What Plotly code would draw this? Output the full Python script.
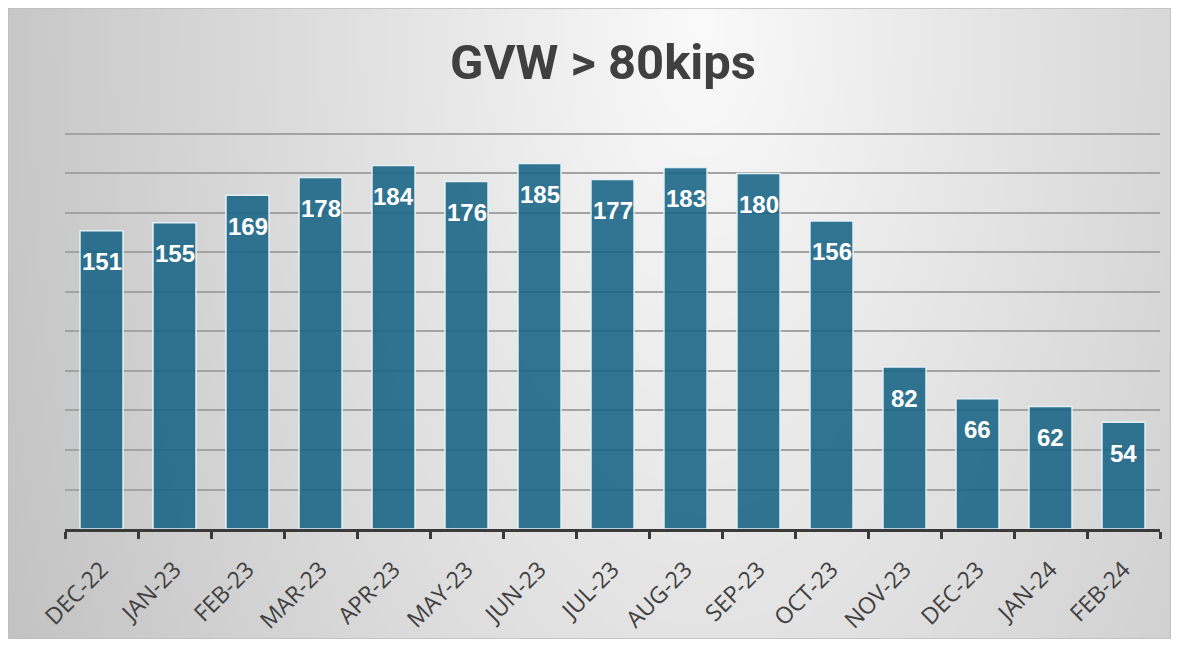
import base64
import struct
import zlib

import numpy as np
import plotly.graph_objects as go

months = ['DEC-22', 'JAN-23', 'FEB-23', 'MAR-23', 'APR-23', 'MAY-23', 'JUN-23', 'JUL-23',
          'AUG-23', 'SEP-23', 'OCT-23', 'NOV-23', 'DEC-23', 'JAN-24', 'FEB-24']
counts = [151, 155, 169, 178, 184, 176, 185, 177, 183, 180, 156, 82, 66, 62, 54]
title_text = 'GVW > 80kips'

W, H = 1163, 631
L, R, T, B = 57, 11, 124, 110


def png_data_uri(arr):
    # arr is HxWx3 uint8, written as a plain RGB png
    h, w, _ = arr.shape
    raw = b''.join(b'\x00' + arr[i].tobytes() for i in range(h))

    def chunk(tag, data):
        return (struct.pack('>I', len(data)) + tag + data +
                struct.pack('>I', zlib.crc32(tag + data) & 0xffffffff))

    png = (b'\x89PNG\r\n\x1a\n' +
           chunk(b'IHDR', struct.pack('>IIBBBBB', w, h, 8, 2, 0, 0, 0)) +
           chunk(b'IDAT', zlib.compress(raw, 9)) +
           chunk(b'IEND', b''))
    return 'data:image/png;base64,' + base64.b64encode(png).decode()


# soft radial background, light near the title and greyer towards the corners
scale = 4
gx, gy = np.meshgrid(np.arange(0, W, scale), np.arange(0, H, scale))
dist = np.sqrt(((gx - 692) / 1.0) ** 2 + ((gy - 12) / 2.0) ** 2)
shade = np.clip(250 - 0.0725 * dist, 185, 250).astype(np.uint8)
bg = np.dstack([shade, shade, shade])

pw = W - L - R
ph = H - T - B

figure = go.Figure()
figure.add_trace(go.Bar(x=months, y=counts,
                        marker=dict(color='rgba(23,99,133,0.88)',
                                    line=dict(color='#e3f1f7', width=1.5)),
                        hoverinfo='x+y'))

for m, v in zip(months, counts):
    figure.add_annotation(x=m, y=v, text=str(v), showarrow=False, yshift=-31,
                          font=dict(family='Liberation Sans', size=24, color='white', weight='bold'))

figure.add_annotation(xref='paper', yref='paper', x=(594.5 - L) / pw, y=1 + (T - 54) / ph,
                      text=f'<b>{title_text}</b>', showarrow=False,
                      xanchor='center', yanchor='middle',
                      font=dict(family='Roboto', size=49, color='#404040'))

figure.add_layout_image(dict(source=png_data_uri(bg), xref='paper', yref='paper',
                             x=-L / pw, y=1 + T / ph, sizex=W / pw, sizey=H / ph,
                             xanchor='left', yanchor='top', sizing='stretch', layer='below'))

figure.add_shape(type='rect', xref='paper', yref='paper',
                 x0=-L / pw, x1=1 + R / pw, y0=-B / ph, y1=1 + T / ph,
                 line=dict(color='#bdbdbd', width=1.5))

figure.update_layout(width=W, height=H, margin=dict(l=L, r=R, t=T, b=B),
                     paper_bgcolor='#dcdcdc', plot_bgcolor='rgba(0,0,0,0)',
                     bargap=0.41, showlegend=False)
figure.update_xaxes(showline=True, linewidth=3, linecolor='#3a3a3a', automargin=False,
                    ticks='outside', tickson='boundaries', ticklen=7, tickwidth=3, tickcolor='#3a3a3a',
                    tickangle=-45, showgrid=False, ticklabelstandoff=15,
                    tickfont=dict(family='Open Sans', size=23, color='#404040'))
figure.update_yaxes(range=[0, 201], dtick=20, showgrid=True, gridcolor='#a3a3a3', gridwidth=2,
                    showticklabels=False, zeroline=False, showline=False)

figure.write_html('out.html')
